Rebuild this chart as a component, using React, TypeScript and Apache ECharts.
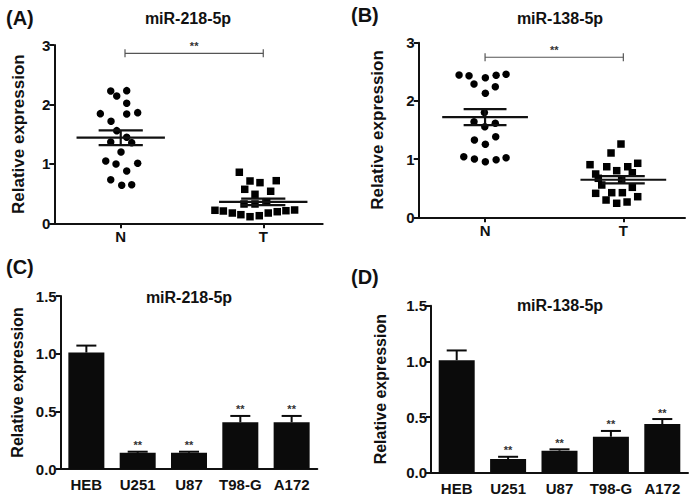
import React, { useEffect, useRef } from 'react';
import * as echarts from 'echarts';

// ---------- data ----------
const groups = ['N', 'T'];

// Panel A: miR-218-5p in tissues
const aNormal = [2.226, 2.143, 2.232, 2.02, 1.845, 1.84, 1.862, 1.717, 1.559, 1.448, 1.369, 1.357, 1.2, 1.049, 0.998, 1.01, 0.88, 0.734, 0.64, 0.65];
const aNormalJitter = [-0.07, -0.028, 0.042, 0.042, -0.143, 0.042, 0.119, -0.068, -0.028, 0.042, -0.07, 0.077, 0.002, -0.105, -0.033, 0.119, 0.042, -0.07, 0.007, 0.077];
const aTumor = [0.219, 0.207, 0.173, 0.145, 0.111, 0.128, 0.173, 0.195, 0.212, 0.224, 0.859, 0.712, 0.684, 0.717, 0.572, 0.488, 0.539, 0.325, 0.325, 0.364];
const aTumorJitter = [-0.339, -0.28, -0.217, -0.157, -0.093, -0.028, 0.035, 0.098, 0.159, 0.22, -0.168, -0.093, -0.023, 0.091, -0.13, -0.058, 0.052, -0.135, -0.058, 0.024];
const aMean = [1.44, 0.36];
const aSem = [0.125, 0.055];

// Panel B: miR-138-5p in tissues
const bNormal = [2.445, 2.433, 2.399, 2.44, 2.457, 2.29, 2.244, 2.131, 1.801, 1.643, 1.557, 1.615, 1.328, 1.254, 1.385, 1.041, 1.002, 0.955, 0.99, 1.024];
const bNormalJitter = [-0.188, -0.116, 0.002, 0.08, 0.152, -0.08, 0.074, 0.002, -0.005, -0.08, -0.002, 0.074, -0.077, 0.002, 0.077, -0.154, -0.077, 0.002, 0.08, 0.152];
const bTumor = [1.259, 1.105, 0.904, 0.869, 0.928, 0.869, 0.744, 0.801, 0.766, 0.555, 0.423, 0.423, 0.515, 0.412, 0.297, 0.241, 0.263, 0.354, 0.67, 0.641];
const bTumorJitter = [-0.017, -0.089, -0.241, -0.12, 0.104, 0.032, -0.2, -0.048, 0.065, -0.156, -0.084, -0.007, 0.065, -0.2, -0.125, -0.048, 0.027, 0.104, -0.181, -0.012];
const bMean = [1.72, 0.645];
const bSem = [0.137, 0.062];

// Panels C, D: cell lines
const cells = ['HEB', 'U251', 'U87', 'T98-G', 'A172'];
const cValues = [1.01, 0.14, 0.14, 0.405, 0.405];
const cSem = [0.06, 0.01, 0.01, 0.055, 0.055];
const cSig = ['', '**', '**', '**', '**'];
const dValues = [1.01, 0.123, 0.198, 0.323, 0.437];
const dSem = [0.088, 0.02, 0.012, 0.052, 0.045];
const dSig = ['', '**', '**', '**', '**'];

const panelLetters = ['(A)', '(B)', '(C)', '(D)'];
const titles = ['miR-218-5p', 'miR-138-5p', 'miR-218-5p', 'miR-138-5p'];
const yName = 'Relative expression';

// ---------- style ----------
const FONT = '"Liberation Sans", Arial, sans-serif';
const INK = '#111';

const zip = (xs: number[], ys: number[], base: number) => ys.map((y, i) => [base + xs[i], y]);

function scatterAxes(gridIndex: number, min: number, max: number, ymax: number, nameGap: number) {
  const x = {
    gridIndex,
    type: 'value',
    min,
    max,
    splitLine: { show: false },
    axisLine: { onZero: false, lineStyle: { color: INK, width: 2 } },
    axisTick: { customValues: [1, 2], length: 5, lineStyle: { color: INK, width: 2 } },
    axisLabel: {
      customValues: [1, 2],
      formatter: (v: number) => groups[Math.round(v) - 1],
      color: INK,
      fontWeight: 'bold',
      fontSize: 15,
      fontFamily: FONT,
      margin: 6,
    },
  };
  const y = {
    gridIndex,
    type: 'value',
    min: 0,
    max: ymax,
    interval: 1,
    splitLine: { show: false },
    axisLine: { show: true, onZero: false, lineStyle: { color: INK, width: 2 } },
    axisTick: { show: true, length: 5, lineStyle: { color: INK, width: 2 } },
    axisLabel: { color: INK, fontWeight: 'bold', fontSize: 15, fontFamily: FONT, margin: 4 },
    name: yName,
    nameLocation: 'middle',
    nameGap,
    nameTextStyle: { color: INK, fontWeight: 'bold', fontSize: 17, fontFamily: FONT },
  };
  return { x, y };
}

function barAxes(gridIndex: number, nameGap: number) {
  const x = {
    gridIndex,
    type: 'category',
    data: cells,
    axisLine: { onZero: false, lineStyle: { color: INK, width: 2 } },
    axisTick: { show: false },
    axisLabel: { interval: 0, hideOverlap: false, color: INK, fontWeight: 'bold', fontSize: 15, fontFamily: FONT, margin: 8 },
  };
  const y = {
    gridIndex,
    type: 'value',
    min: 0,
    max: 1.5,
    interval: 0.5,
    splitLine: { show: false },
    axisLine: { show: true, onZero: false, lineStyle: { color: INK, width: 2 } },
    axisTick: { show: true, length: 5, lineStyle: { color: INK, width: 2 } },
    axisLabel: {
      color: INK,
      fontWeight: 'bold',
      fontSize: 15,
      fontFamily: FONT,
      margin: 4,
      formatter: (v: number) => v.toFixed(1),
    },
    name: yName,
    nameLocation: 'middle',
    nameGap,
    nameTextStyle: { color: INK, fontWeight: 'bold', fontSize: 16, fontFamily: FONT },
  };
  return { x, y };
}

function meanSemSeries(axisIndex: number, means: number[], sems: number[]) {
  return {
    type: 'custom',
    xAxisIndex: axisIndex,
    yAxisIndex: axisIndex,
    silent: true,
    z: 5,
    data: means.map((m, i) => [i + 1, m, sems[i]]),
    renderItem: (_p: any, api: any) => {
      const x = api.value(0);
      const m = api.value(1);
      const s = api.value(2);
      const seg = (x1: number, y1: number, x2: number, y2: number) => {
        const a = api.coord([x1, y1]);
        const b = api.coord([x2, y2]);
        return { type: 'line', shape: { x1: a[0], y1: a[1], x2: b[0], y2: b[1] }, style: { stroke: INK, lineWidth: 2.2 } };
      };
      return {
        type: 'group',
        children: [
          seg(x - 0.31, m, x + 0.31, m),
          seg(x - 0.155, m + s, x + 0.155, m + s),
          seg(x - 0.155, m - s, x + 0.155, m - s),
          seg(x, m - s, x, m + s),
        ],
      };
    },
  };
}

function bracketSeries(axisIndex: number, x1: number, x2: number, y: number) {
  return {
    type: 'custom',
    xAxisIndex: axisIndex,
    yAxisIndex: axisIndex,
    silent: true,
    data: [[x1, x2, y]],
    renderItem: (_p: any, api: any) => {
      const a = api.coord([api.value(0), api.value(2)]);
      const b = api.coord([api.value(1), api.value(2)]);
      const st = { stroke: '#555', lineWidth: 1.2 };
      return {
        type: 'group',
        children: [
          { type: 'line', shape: { x1: a[0], y1: a[1], x2: b[0], y2: b[1] }, style: st },
          { type: 'line', shape: { x1: a[0], y1: a[1] - 4, x2: a[0], y2: a[1] + 4 }, style: st },
          { type: 'line', shape: { x1: b[0], y1: b[1] - 4, x2: b[0], y2: b[1] + 4 }, style: st },
          {
            type: 'text',
            x: (a[0] + b[0]) / 2,
            y: a[1] - 2,
            style: { text: '**', align: 'center', verticalAlign: 'bottom', fill: '#333', font: `bold 11px ${FONT}` },
          },
        ],
      };
    },
  };
}

function barSeries(axisIndex: number, values: number[]) {
  return {
    type: 'bar',
    xAxisIndex: axisIndex,
    yAxisIndex: axisIndex,
    data: values,
    barWidth: 36,
    itemStyle: { color: '#0b0b0b', opacity: 1 },
    silent: true,
  };
}

function errorSeries(axisIndex: number, values: number[], sems: number[], sig: string[]) {
  return {
    type: 'custom',
    xAxisIndex: axisIndex,
    yAxisIndex: axisIndex,
    silent: true,
    z: 5,
    data: values.map((v, i) => [i, v, sems[i]]),
    renderItem: (p: any, api: any) => {
      const i = api.value(0);
      const v = api.value(1);
      const s = api.value(2);
      const base = api.coord([i, v]);
      const top = api.coord([i, v + s]);
      const st = { stroke: '#0b0b0b', lineWidth: 2 };
      const children: any[] = [
        { type: 'line', shape: { x1: base[0], y1: base[1], x2: top[0], y2: top[1] }, style: st },
        { type: 'line', shape: { x1: top[0] - 10, y1: top[1], x2: top[0] + 10, y2: top[1] }, style: st },
      ];
      const label = sig[p.dataIndex];
      if (label) {
        children.push({
          type: 'text',
          x: top[0],
          y: top[1] - 1,
          style: { text: label, align: 'center', verticalAlign: 'bottom', fill: '#333', font: `bold 11px ${FONT}` },
        });
      }
      return { type: 'group', children };
    },
  };
}

export default function App() {
  const ref = useRef<HTMLDivElement>(null);

  useEffect(() => {
    if (!ref.current) return;
    const chart = echarts.init(ref.current, undefined, { renderer: 'svg' });

    const A = scatterAxes(0, 0.534, 2.417, 3, 27);
    const B = scatterAxes(1, 0.52, 2.446, 3, 33);
    const C = barAxes(2, 35);
    const D = barAxes(3, 43);

    const circle = { type: 'scatter', symbol: 'circle', symbolSize: 7.5, itemStyle: { color: '#000', opacity: 1 }, silent: true };
    const square = { type: 'scatter', symbol: 'rect', symbolSize: 7.5, itemStyle: { color: '#000', opacity: 1 }, silent: true };

    const letterPos = [
      [6, 18],
      [351, 15],
      [6, 267],
      [351, 277],
    ];
    const titlePos = [
      [188, 18],
      [560, 18],
      [189, 297],
      [560, 305],
    ];

    const graphic: any[] = [];
    panelLetters.forEach((t, i) => {
      graphic.push({
        type: 'text',
        x: letterPos[i][0],
        y: letterPos[i][1],
        style: { text: t, fill: INK, font: `bold 20px ${FONT}`, align: 'left', verticalAlign: 'middle' },
      });
    });
    titles.forEach((t, i) => {
      graphic.push({
        type: 'text',
        x: titlePos[i][0],
        y: titlePos[i][1],
        style: { text: t, fill: INK, font: `bold 16px ${FONT}`, align: 'center', verticalAlign: 'middle' },
      });
    });

    chart.setOption({
      animation: false,
      backgroundColor: '#fff',
      textStyle: { fontFamily: FONT },
      grid: [
        { left: 54.3, top: 45, width: 268.4, height: 178.3 },
        { left: 418.7, top: 42.7, width: 266.3, height: 174.6 },
        { left: 60.7, top: 296, width: 256.6, height: 173 },
        { left: 431, top: 305.7, width: 257, height: 167 },
      ],
      xAxis: [A.x, B.x, C.x, D.x],
      yAxis: [A.y, B.y, C.y, D.y],
      series: [
        { ...circle, xAxisIndex: 0, yAxisIndex: 0, data: zip(aNormalJitter, aNormal, 1) },
        { ...square, xAxisIndex: 0, yAxisIndex: 0, data: zip(aTumorJitter, aTumor, 2) },
        meanSemSeries(0, aMean, aSem),
        bracketSeries(0, 1.03, 2, 2.86),
        { ...circle, xAxisIndex: 1, yAxisIndex: 1, data: zip(bNormalJitter, bNormal, 1) },
        { ...square, xAxisIndex: 1, yAxisIndex: 1, data: zip(bTumorJitter, bTumor, 2) },
        meanSemSeries(1, bMean, bSem),
        bracketSeries(1, 1, 2, 2.75),
        barSeries(2, cValues),
        errorSeries(2, cValues, cSem, cSig),
        barSeries(3, dValues),
        errorSeries(3, dValues, dSem, dSig),
      ],
      graphic,
    });

    return () => chart.dispose();
  }, []);

  return <div ref={ref} style={{ position: 'fixed', left: 0, top: 0, width: 691, height: 497 }} />;
}
